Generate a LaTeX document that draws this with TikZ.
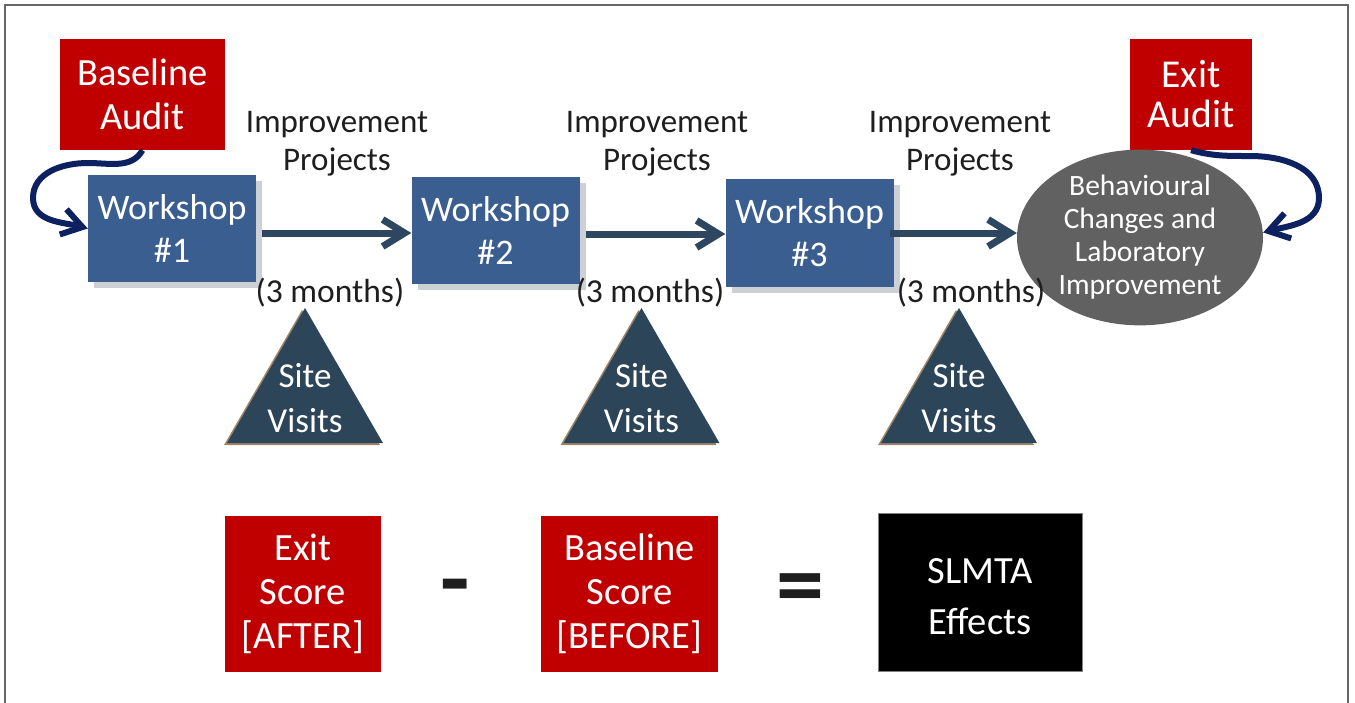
\documentclass[tikz,border=0pt]{standalone}
\usepackage{fontspec}
\setmainfont{Carlito}
\usepackage{xcolor}
\usepackage{tikz}
\usetikzlibrary{arrows.meta,shapes.geometric,shadows}

\definecolor{auditred}{HTML}{C00000}
\definecolor{wsblue}{HTML}{3A5E8F}
\definecolor{wsshadow}{HTML}{CDD1D6}
\definecolor{flowgray}{HTML}{2E4760}
\definecolor{visitblue}{HTML}{2D4559}
\definecolor{visitbrown}{HTML}{9E8466}
\definecolor{loopnavy}{HTML}{0D2160}
\definecolor{ovalgray}{HTML}{616161}
\definecolor{labelblack}{HTML}{1E1E1E}

\tikzset{
  audit/.style={fill=auditred, text=white, align=center, inner sep=0pt,
    font=\fontsize{38.5}{44}\selectfont},
  workshop/.style={fill=wsblue, text=white, align=center, inner sep=0pt,
    minimum width=168pt, minimum height=107pt, font=\fontsize{36}{43}\selectfont,
    drop shadow={shadow xshift=6pt, shadow yshift=-6pt, fill=wsshadow, opacity=1}},
  visit/.style={regular polygon, regular polygon sides=3, minimum size=180pt,
    inner sep=0pt, fill=visitblue,
    drop shadow={shadow xshift=-3pt, shadow yshift=-2pt, fill=visitbrown, opacity=1}},
  visittext/.style={text=white, align=center, font=\fontsize{35}{45}\selectfont},
  project/.style={text=labelblack, align=center, font=\fontsize{33}{38}\selectfont},
  months/.style={text=labelblack, anchor=base, font=\fontsize{33.5}{38}\selectfont},
  flow/.style={line width=7pt, flowgray, -{Straight Barb[length=22pt,width=27pt]}},
  loop/.style={line width=6pt, loopnavy, -{Straight Barb[length=20pt,width=26pt]}},
  score/.style={fill=auditred, text=white, align=center, inner sep=0pt,
    minimum height=156pt, font=\fontsize{38.5}{44}\selectfont},
  sign/.style={text=labelblack, anchor=base, font=\fontsize{96}{96}\selectfont\bfseries}
}

\begin{document}
\begin{tikzpicture}[x=1pt,y=1pt]
    \useasboundingbox (0,0) rectangle (1355,-702);
    \draw[gray!80!black, line width=1.5pt] (5,-5) rectangle (1348,-712);

    % audits and workshops
    \node[audit, minimum width=165pt, minimum height=111pt] (ba) at (142.5,-94.5) {Baseline\\Audit};
    \node[audit, minimum width=122pt, minimum height=111pt, font=\fontsize{39.5}{40}\selectfont] (ea) at (1191,-94.5) {Exit\\Audit};
    \node[workshop] (w1) at (172,-228.5) {Workshop\\\#1};
    \node[workshop] (w2) at (495.5,-230.5) {Workshop\\\#2};
    \node[workshop, minimum height=108pt] (w3) at (809.5,-233) {Workshop\\\#3};
    \node[ellipse, fill=ovalgray, text=white, align=center, inner sep=0pt,
      minimum width=246pt, minimum height=169pt, font=\fontsize{29.5}{33}\selectfont]
      (ov) at (1140,-237.5) {Behavioural\\Changes and\\Laboratory\\Improvement};

    % improvement projects
    \node[project] (ip1) at (337,-144) {Improvement\\Projects};
    \node[project] (ip2) at (657,-144) {Improvement\\Projects};
    \node[project] (ip3) at (960,-144) {Improvement\\Projects};
    \node[months] (m1) at (330,-302) {(3 months)};
    \node[months] (m2) at (650,-302) {(3 months)};
    \node[months] (m3) at (971,-302) {(3 months)};

    \draw[flow] ([xshift=6pt,yshift=-4.5pt]w1.east) -- ([yshift=-2.5pt]w2.west);
    \draw[flow] ([xshift=6pt,yshift=-3.5pt]w2.east) -- ([yshift=-1pt]w3.west);
    \draw[flow] ([xshift=-4pt]w3.east) -- ([yshift=4.5pt]ov.west);

    \draw[loop] (ba.south) to[out=-120,in=0] (88,-163) to[out=180,in=90] (33,-198)
        to[out=-90,in=165] (w1.west);
    \draw[loop] (ea.south) to[out=-15,in=180] (1250,-156) to[out=0,in=90] (1319,-198)
        to[out=-90,in=15] ([yshift=5pt]ov.east);

    % site visits
    \node[visit] (sv1) at (305,-398) {};
    \node[visit] (sv2) at (641.5,-398) {};
    \node[visit] (sv3) at (959,-398) {};
    \node[visittext] (st1) at (sv1) {Site\\Visits};
    \node[visittext] (st2) at (sv2) {Site\\Visits};
    \node[visittext] (st3) at (sv3) {Site\\Visits};

    % scores
    \node[score, minimum width=156pt] (es) at (303,-594) {Exit\\Score\\{[AFTER]}};
    \node[sign] (minus) at (455,-611) {-};
    \node[score, minimum width=177pt] (bs) at (629.5,-594) {Baseline\\Score\\{[BEFORE]}};
    \node[sign] (equal) at (800,-616) {=};
    \node[fill=black, draw=gray, text=white, align=center, inner sep=0pt,
      minimum width=204pt, minimum height=158pt, text height=86pt,
      font=\fontsize{38.5}{51}\selectfont]
      (fx) at (980,-592) {SLMTA\\Effects};
\end{tikzpicture}
\end{document}
